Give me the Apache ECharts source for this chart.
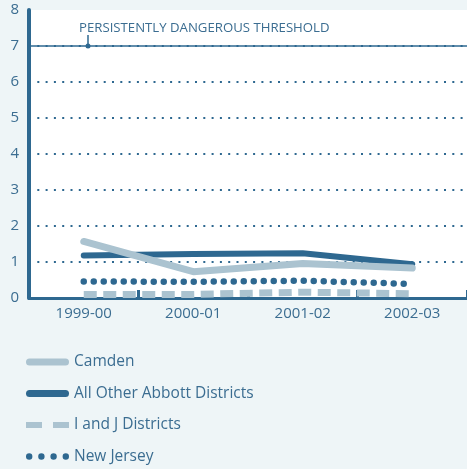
<!DOCTYPE html>
<html><head><meta charset="utf-8">
<script src="https://cdn.jsdelivr.net/npm/echarts@6/dist/echarts.min.js"></script>
<style>html,body{margin:0;padding:0;background:#eef5f7;}#c{width:467px;height:469px;}</style>
</head><body><div id="c"></div>
<script>
const categories = ['1999-00', '2000-01', '2001-02', '2002-03'];
const camden = [1.57, 0.73, 0.96, 0.83];
const otherAbbott = [1.18, 1.22, 1.24, 0.94];
const ijDistricts = [0.1, 0.1, 0.16, 0.12];
const newJersey = [0.46, 0.45, 0.48, 0.39];
const yTicks = [0, 1, 2, 3, 4, 5, 6, 7, 8];
const threshold = 7;
const thresholdLabel = 'PERSISTENTLY DANGEROUS THRESHOLD';

const DARK = '#2e6890';
const LIGHT = '#abc3d0';
const TXT = '#3b6d91';
const FONT = '"Open Sans", sans-serif';

const ICON_SOLID = 'path://M3.5,0 H39.5 A3.5,3.5 0 0 1 39.5,7 H3.5 A3.5,3.5 0 0 1 3.5,0 Z';
const ICON_DASH = 'path://M0,0.5 H16 V6.5 H0 Z M27,0.5 H43 V6.5 H27 Z';
const ICON_DOTS = 'path://M0,3.5 A3.2,3.2 0 1 0 6.4,3.5 A3.2,3.2 0 1 0 0,3.5 Z ' +
  'M12.2,3.5 A3.2,3.2 0 1 0 18.6,3.5 A3.2,3.2 0 1 0 12.2,3.5 Z ' +
  'M24.4,3.5 A3.2,3.2 0 1 0 30.8,3.5 A3.2,3.2 0 1 0 24.4,3.5 Z ' +
  'M36.6,3.5 A3.2,3.2 0 1 0 43,3.5 A3.2,3.2 0 1 0 36.6,3.5 Z';

const chart = echarts.init(document.getElementById('c'), null, {renderer: 'canvas'});
const gridColors = yTicks.map(v => (v === 0 || v === 8) ? 'rgba(0,0,0,0)' : DARK);

chart.setOption({
  backgroundColor: '#eef5f7',
  animation: false,
  textStyle: {fontFamily: FONT},
  grid: {left: 29, right: -2, top: 10, height: 288, show: true, backgroundColor: '#ffffff', borderWidth: 0, containLabel: false},
  xAxis: {
    type: 'category', data: categories, boundaryGap: true,
    axisLine: {lineStyle: {color: DARK, width: 3}},
    axisTick: {show: true, inside: true, length: 8, lineStyle: {color: DARK, width: 3}},
    axisLabel: {color: TXT, fontSize: 15, fontFamily: FONT, margin: 8}
  },
  yAxis: {
    type: 'value', min: 0, max: 8, interval: 1,
    axisLine: {show: true, lineStyle: {color: DARK, width: 4}},
    axisTick: {show: false},
    axisLabel: {color: TXT, fontSize: 15, fontFamily: FONT, margin: 10},
    splitLine: {show: true, lineStyle: {color: gridColors, width: 2, type: [2, 6.3]}}
  },
  legend: {
    orient: 'vertical', left: 26, top: 352, padding: 0,
    itemWidth: 43, itemHeight: 7, itemGap: 11.5,
    textStyle: {color: TXT, fontSize: 15.5, fontFamily: FONT, lineHeight: 20},
    data: [
      {name: 'Camden', icon: ICON_SOLID, itemStyle: {color: LIGHT}},
      {name: 'All Other Abbott Districts', icon: ICON_SOLID, itemStyle: {color: DARK}},
      {name: 'I and J Districts', icon: ICON_DASH, itemStyle: {color: LIGHT}},
      {name: 'New Jersey', icon: ICON_DOTS, itemStyle: {color: DARK}}
    ]
  },
  series: [
    {
      name: 'I and J Districts', type: 'line', data: ijDistricts, symbol: 'none',
      lineStyle: {color: LIGHT, width: 7, type: [13, 6.5], cap: 'butt'}, itemStyle: {color: LIGHT},
      z: 2
    },
    {
      name: 'New Jersey', type: 'line', data: newJersey, symbol: 'none',
      lineStyle: {color: DARK, width: 6.5, type: [0, 10], cap: 'round'}, itemStyle: {color: DARK},
      z: 3
    },
    {
      name: 'All Other Abbott Districts', type: 'line', data: otherAbbott, symbol: 'none',
      lineStyle: {color: DARK, width: 6, cap: 'round'}, itemStyle: {color: DARK},
      z: 4
    },
    {
      name: 'Camden', type: 'line', data: camden, symbol: 'none',
      lineStyle: {color: LIGHT, width: 7, cap: 'round'}, itemStyle: {color: LIGHT},
      z: 5,
      markLine: {
        silent: true, symbol: 'none', label: {show: false},
        lineStyle: {color: DARK, width: 1.5, type: 'solid'},
        data: [{yAxis: threshold}]
      }
    }
  ]
});

// annotation: label + pin for threshold
const py = chart.convertToPixel({yAxisIndex: 0}, threshold);
chart.setOption({
  graphic: [
    {type: 'text', left: 79, top: py - 24, style: {text: thresholdLabel, fill: TXT, font: '500 13.2px ' + FONT}},
    {type: 'line', shape: {x1: 88, y1: py - 11, x2: 88, y2: py}, style: {stroke: DARK, lineWidth: 1.5}},
    {type: 'circle', shape: {cx: 88, cy: py, r: 2.5}, style: {fill: DARK}}
  ]
});
</script></body></html>
